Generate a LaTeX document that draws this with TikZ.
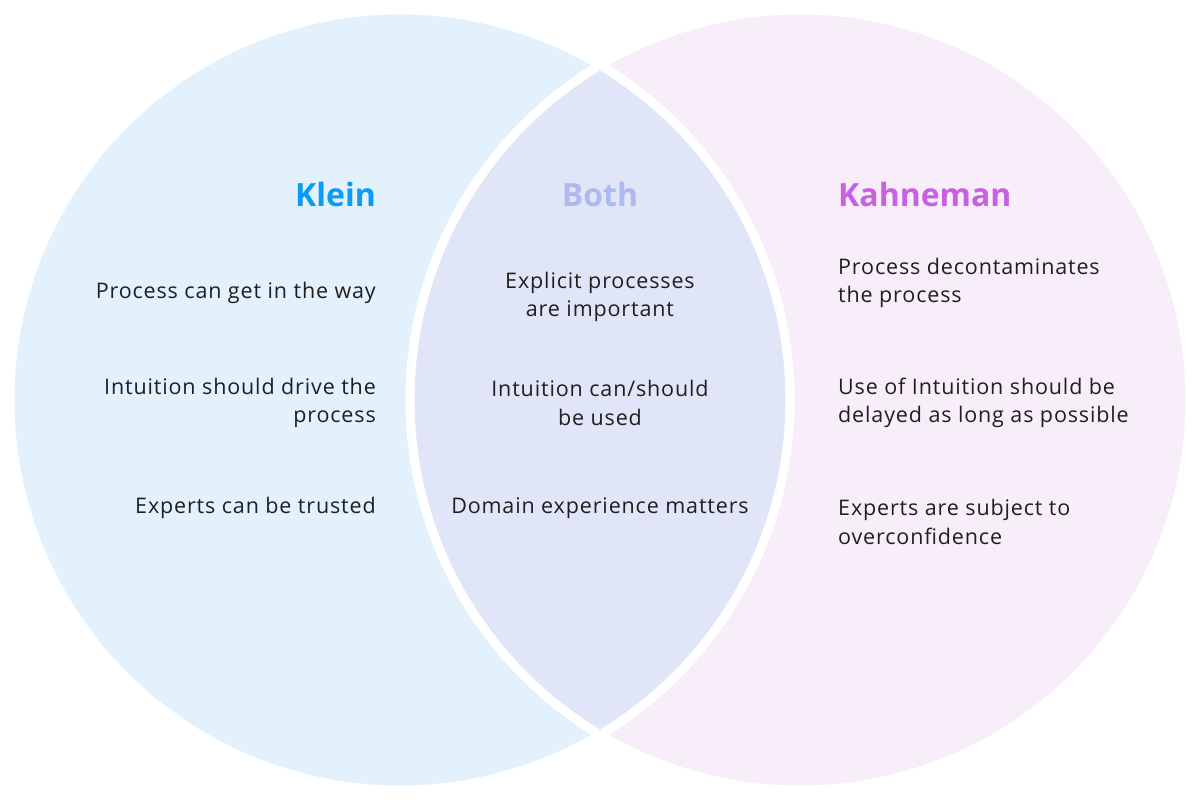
\documentclass[tikz,border=0pt]{standalone}
\usepackage{fontspec}
\setmainfont{Open Sans}
\newfontfamily\itemfont[LetterSpace=4]{Open Sans}
\begin{document}
\begin{tikzpicture}[x=1pt,y=1pt,
  item/.style={inner sep=0pt,font=\itemfont\fontsize{21.5}{28.5}\selectfont,text=black!88},
  ttl/.style={inner sep=0pt,font=\fontsize{32}{36}\selectfont\bfseries}]
\useasboundingbox (0,0) rectangle (1200,800);
\definecolor{lc}{HTML}{E3F1FD}
\definecolor{rc}{HTML}{F8EEFA}
\definecolor{mc}{HTML}{E1E5F8}
\fill[lc] (400,400) circle (390);
\fill[rc] (800,400) circle (390);
\begin{scope}
\clip (400,400) circle (390);
\fill[mc] (800,400) circle (390);
\end{scope}
\draw[white,line width=9] (400,400) circle (390);
\draw[white,line width=9] (800,400) circle (390);
\definecolor{c1}{HTML}{0A9BF5}\definecolor{c2}{HTML}{ADB9EF}\definecolor{c3}{HTML}{C960E0}
\node[ttl,text=c1,anchor=east] (kl) at (376,605) {Klein};
\node[ttl,text=c2] (bo) at (600,605) {Both};
\node[ttl,text=c3,anchor=west] (ka) at (838,605) {Kahneman};
\node[item,anchor=east] (l1) at (376,507) {Process can get in the way};
\node[item,anchor=east,align=right] (l2) at (376,397) {Intuition should drive the\\process};
\node[item,anchor=east] (l3) at (376,292) {Experts can be trusted};
\node[item,align=center] (m1) at (600,503) {Explicit processes\\are important};
\node[item,align=center] (m2) at (600,397) {Intuition can/should\\be used};
\node[item] (m3) at (600,292) {Domain experience matters};
\node[item,anchor=west,align=left] (r1) at (838,517) {Process decontaminates\\the process};
\node[item,anchor=west,align=left] (r2) at (838,397) {Use of Intuition should be\\delayed as long as possible};
\node[item,anchor=west,align=left] (r3) at (838,278) {Experts are subject to\\overconfidence};
\end{tikzpicture}
\end{document}
